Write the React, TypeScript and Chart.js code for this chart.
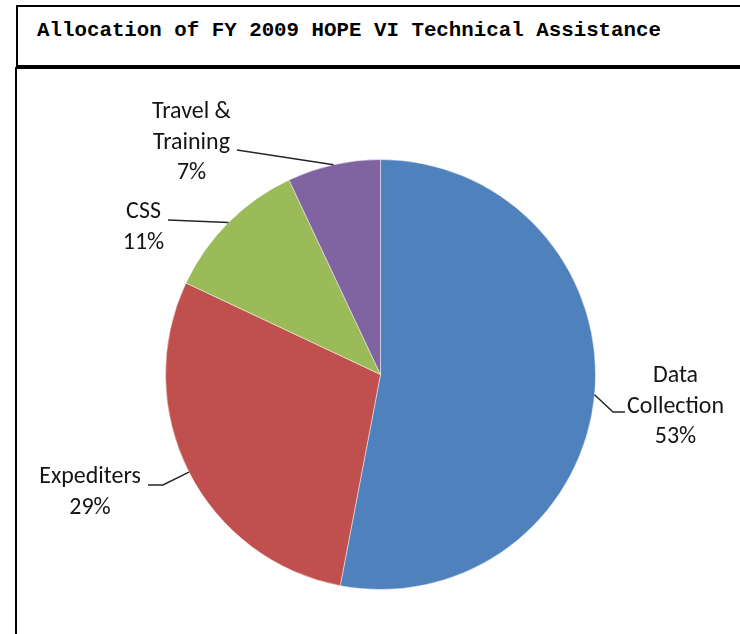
import React, { useEffect, useRef } from "react";
import { Chart, registerables } from "chart.js";

Chart.register(...registerables);

const TITLE = "Allocation of FY 2009 HOPE VI Technical Assistance";
const categories = ["Data Collection", "Expediters", "CSS", "Travel & Training"];
const labelLines = [["Data", "Collection"], ["Expediters"], ["CSS"], ["Travel &", "Training"]];
const values = [53, 29, 11, 7];
const colors = ["#4F81BD", "#C0504D", "#9BBB59", "#8064A2"];

// label layout (text centre x, first baseline y, leader path from text side towards the slice)
const LABEL_LAYOUT = [
  { x: 675.5, y: 382, path: [[625, 412], [613, 412]] },
  { x: 90, y: 483, path: [[148, 485], [163, 485]] },
  { x: 143.5, y: 218, path: [[168, 220]] },
  { x: 191.5, y: 118, path: [[237, 150]] },
];
const LINE_GAP = 30.5;
const LABEL_FONT = "Carlito, Lato, 'Noto Sans', sans-serif";

const labelPlugin = {
  id: "pieLabels",
  afterDatasetsDraw(chart: any) {
    const ctx = chart.ctx as CanvasRenderingContext2D;
    const meta = chart.getDatasetMeta(0);
    const total = values.reduce((a, b) => a + b, 0);
    ctx.save();
    ctx.font = `100px ${LABEL_FONT}`;
    const w = ctx.measureText("Collection").width;
    const size = (100 * 97) / w;
    ctx.font = `${size}px ${LABEL_FONT}`;
    ctx.textAlign = "center";
    ctx.textBaseline = "alphabetic";
    meta.data.forEach((arc: any, i: number) => {
      const p = arc.getProps(["x", "y", "startAngle", "endAngle", "outerRadius"], true);
      const mid = (p.startAngle + p.endAngle) / 2;
      const ax = p.x + Math.cos(mid) * p.outerRadius;
      const ay = p.y + Math.sin(mid) * p.outerRadius;
      const lay = LABEL_LAYOUT[i];
      ctx.strokeStyle = "#262626";
      ctx.lineWidth = 1.5;
      ctx.beginPath();
      ctx.moveTo(lay.path[0][0], lay.path[0][1]);
      for (let k = 1; k < lay.path.length; k++) ctx.lineTo(lay.path[k][0], lay.path[k][1]);
      ctx.lineTo(ax, ay);
      ctx.stroke();
      ctx.fillStyle = "#151515";
      const lines = [...labelLines[i], Math.round((values[i] / total) * 100) + "%"];
      lines.forEach((t, k) => ctx.fillText(t, lay.x, lay.y + k * LINE_GAP));
    });
    ctx.restore();
  },
};

export default function App() {
  const ref = useRef<HTMLCanvasElement>(null);
  useEffect(() => {
    if (!ref.current) return;
    const chart = new Chart(ref.current, {
      type: "pie",
      data: {
        labels: categories,
        datasets: [
          {
            data: values,
            backgroundColor: colors,
            borderColor: "rgba(255,255,255,0.45)",
            borderWidth: 1,
          },
        ],
      },
      options: {
        responsive: false,
        maintainAspectRatio: false,
        animation: false,
        devicePixelRatio: 1,
        radius: 215,
        layout: { padding: { left: 160, right: 139, top: 150, bottom: 35 } },
        plugins: {
          legend: { display: false },
          tooltip: { enabled: false },
          title: { display: false },
        },
      } as any,
      plugins: [labelPlugin],
    });
    return () => chart.destroy();
  }, []);

  return (
    <div
      style={{
        position: "absolute",
        left: 0,
        top: 0,
        width: 740,
        height: 634,
        overflow: "hidden",
        background: "#fff",
      }}
    >
      <div
        style={{
          position: "absolute",
          left: 16,
          top: 5,
          width: 760,
          height: 58,
          border: "2px solid #000",
        }}
      />
      <div
        style={{
          position: "absolute",
          left: 15,
          top: 67,
          width: 760,
          height: 600,
          borderTop: "2px solid #000",
          borderLeft: "2px solid #000",
        }}
      />
      <div
        style={{
          position: "absolute",
          left: 37,
          top: 21,
          fontFamily: "'Courier New', 'Liberation Mono', monospace",
          fontWeight: "bold",
          fontSize: "20.8px",
          lineHeight: "20.8px",
          whiteSpace: "pre",
          color: "#000",
        }}
      >
        {TITLE}
      </div>
      <canvas
        ref={ref}
        width={740}
        height={634}
        style={{ position: "absolute", left: 0, top: 0, width: 740, height: 634 }}
      />
    </div>
  );
}
